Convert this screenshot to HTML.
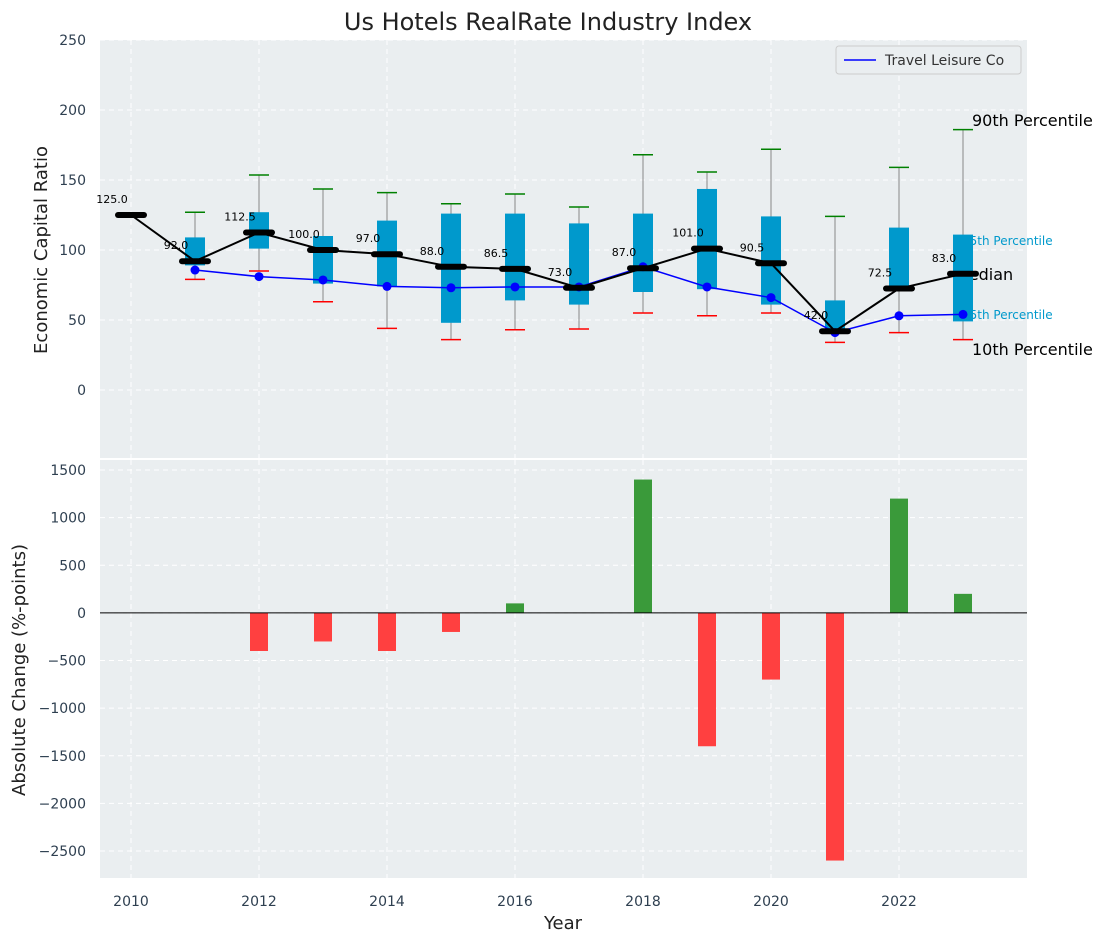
<!DOCTYPE html>
<html><head><meta charset="utf-8"><style>
body{margin:0;background:#fff;font-family:"Liberation Sans","DejaVu Sans",sans-serif;}
svg text{font-family:"DejaVu Sans","Liberation Sans",sans-serif;}
</style></head><body>
<svg id="c" width="1107" height="942" xmlns="http://www.w3.org/2000/svg"></svg>
<script>
const years=[2010,2011,2012,2013,2014,2015,2016,2017,2018,2019,2020,2021,2022,2023];
const medians=[125,92,112.5,100,97,88,86.5,73,87,101,90.5,42,72.5,83];
const q1=[null,89,101,76,74,48,64,61,70,72,61,41,72,49];
const q3=[null,109,127,110,121,126,126,119,126,143.6,124,64,116,111];
const p90=[null,127,153.6,143.6,141,133,140,130.7,168,155.7,172,124,159,186];
const p10=[null,79,85,63,44,36,43,43.6,55,53,55,34,41,36];
const travel=[null,85.7,81,78.6,74,73,73.6,73.6,88,73.6,66,41,53,54];
const changes=[null,null,-400,-300,-400,-200,100,null,1400,-1400,-700,-2600,1200,200];
const yTicksTop=[0,50,100,150,200,250];
const yTicksBot=[-2500,-2000,-1500,-1000,-500,0,500,1000,1500];
const xTicks=[2010,2012,2014,2016,2018,2020,2022];

const svg=document.getElementById('c');
const NS='http://www.w3.org/2000/svg';
function el(tag,attrs,parent){const e=document.createElementNS(NS,tag);for(const k in attrs)e.setAttribute(k,attrs[k]);(parent||svg).appendChild(e);return e;}
const X=y=>131+(y-2010)*64;
const Yt=v=>390-v*1.4;
const Yb=v=>612.9-v*0.09525;
const L=100,R=1027;

// backgrounds
let bg=el('rect',{x:L,y:40,width:R-L,height:418,fill:'#eaeef0'});

let bg2=el('rect',{x:L,y:460,width:R-L,height:418,fill:'#eaeef0'});


// grids
xTicks.forEach(t=>{
  el('line',{x1:X(t),x2:X(t),y1:40,y2:458,stroke:'#fff','stroke-dasharray':'5,4','stroke-width':1});
  el('line',{x1:X(t),x2:X(t),y1:460,y2:878,stroke:'#fff','stroke-dasharray':'5,4','stroke-width':1});
  const tx=el('text',{x:X(t),y:906,'text-anchor':'middle','font-size':14,fill:'#2e3f50'});tx.textContent=t;
  
});
yTicksTop.forEach(t=>{
  el('line',{x1:L,x2:R,y1:Yt(t),y2:Yt(t),stroke:'#fff','stroke-dasharray':'5,4'});
  const tx=el('text',{x:86,y:Yt(t)+5,'text-anchor':'end','font-size':14,fill:'#2e3f50'});tx.textContent=t;
  
});
yTicksBot.forEach(t=>{
  el('line',{x1:L,x2:R,y1:Yb(t),y2:Yb(t),stroke:'#fff','stroke-dasharray':'5,4'});
  const tx=el('text',{x:86,y:Yb(t)+5,'text-anchor':'end','font-size':14,fill:'#2e3f50'});tx.textContent=(t<0?'\u2212'+(-t):t);
  
});

// percentile label texts (behind boxes)
const i23=years.length-1;
function lab(x,y,txt,sz,col,name){const t=el('text',{x:x,y:y,'font-size':sz,fill:col});t.textContent=txt;return t;}
lab(972,126,'90th Percentile',16,'#000','label-90th');
lab(962,245,'75th Percentile',12,'#0099cc','label-75th');
lab(955,280,'Median',16,'#000','label-median');
lab(962,319,'25th Percentile',12,'#0099cc','label-25th');
lab(972,355,'10th Percentile',16,'#000','label-10th');

// whiskers, boxes
years.forEach((y,i)=>{
  if(p90[i]==null)return;
  const x=X(y);
  let w=el('line',{x1:x,x2:x,y1:Yt(p90[i]),y2:Yt(p10[i]),stroke:'#888','stroke-width':1});
  
  let b=el('rect',{x:x-10,y:Yt(q3[i]),width:20,height:Yt(q1[i])-Yt(q3[i]),fill:'#0099cc'});
  
  let g=el('line',{x1:x-10,x2:x+10,y1:Yt(p90[i]),y2:Yt(p90[i]),stroke:'green','stroke-width':1.5});
  
  let r=el('line',{x1:x-10,x2:x+10,y1:Yt(p10[i]),y2:Yt(p10[i]),stroke:'red','stroke-width':1.5});
  
});

// travel line
let tp=[];years.forEach((y,i)=>{if(travel[i]!=null)tp.push(X(y)+','+Yt(travel[i]));});
let tl=el('polyline',{points:tp.join(' '),fill:'none',stroke:'blue','stroke-width':1.5});

years.forEach((y,i)=>{if(travel[i]==null)return;
  let c=el('circle',{cx:X(y),cy:Yt(travel[i]),r:4.5,fill:'blue'});
  });

// median line
let mp=years.map((y,i)=>X(y)+','+Yt(medians[i]));
let ml=el('polyline',{points:mp.join(' '),fill:'none',stroke:'#000','stroke-width':2});

years.forEach((y,i)=>{
  let m=el('line',{x1:X(y)-13,x2:X(y)+13,y1:Yt(medians[i]),y2:Yt(medians[i]),stroke:'#000','stroke-width':6,'stroke-linecap':'round'});
  
  let t=el('text',{x:X(y)-19,y:Yt(medians[i])-12,'text-anchor':'middle','font-size':11,fill:'#000'});
  t.textContent=medians[i].toFixed(1);
  
});

// legend
let lg=el('g',{});
el('rect',{x:836,y:46,width:185,height:28,rx:3,fill:'#eaeef0',stroke:'#ccc'},lg);
el('line',{x1:844,x2:876,y1:60,y2:60,stroke:'blue','stroke-width':1.5},lg);
let lt=el('text',{x:885,y:65,'font-size':14,fill:'#333'},lg);lt.textContent='Travel Leisure Co';

// bars
years.forEach((y,i)=>{if(changes[i]==null)return;
  const v=changes[i];const y0=Yb(0),y1=Yb(v);
  let b=el('rect',{x:X(y)-9,y:Math.min(y0,y1),width:18,height:Math.abs(y1-y0),fill:v>=0?'#3a9a3a':'#ff4040'});
  });
el('line',{x1:L,x2:R,y1:Yb(0),y2:Yb(0),stroke:'#000','stroke-width':1});

// titles
let tt=el('text',{x:548,y:30,'text-anchor':'middle','font-size':24,fill:'#222'});tt.textContent='Us Hotels RealRate Industry Index';

let yt=el('text',{x:47,y:250,'text-anchor':'middle','font-size':18,fill:'#222',transform:'rotate(-90 47 250)'});yt.textContent='Economic Capital Ratio';

let yb=el('text',{x:25,y:670,'text-anchor':'middle','font-size':18,fill:'#222',transform:'rotate(-90 25 670)'});yb.textContent='Absolute Change (%-points)';

let xt=el('text',{x:563,y:929,'text-anchor':'middle','font-size':18,fill:'#222'});xt.textContent='Year';

</script>
</body></html>
